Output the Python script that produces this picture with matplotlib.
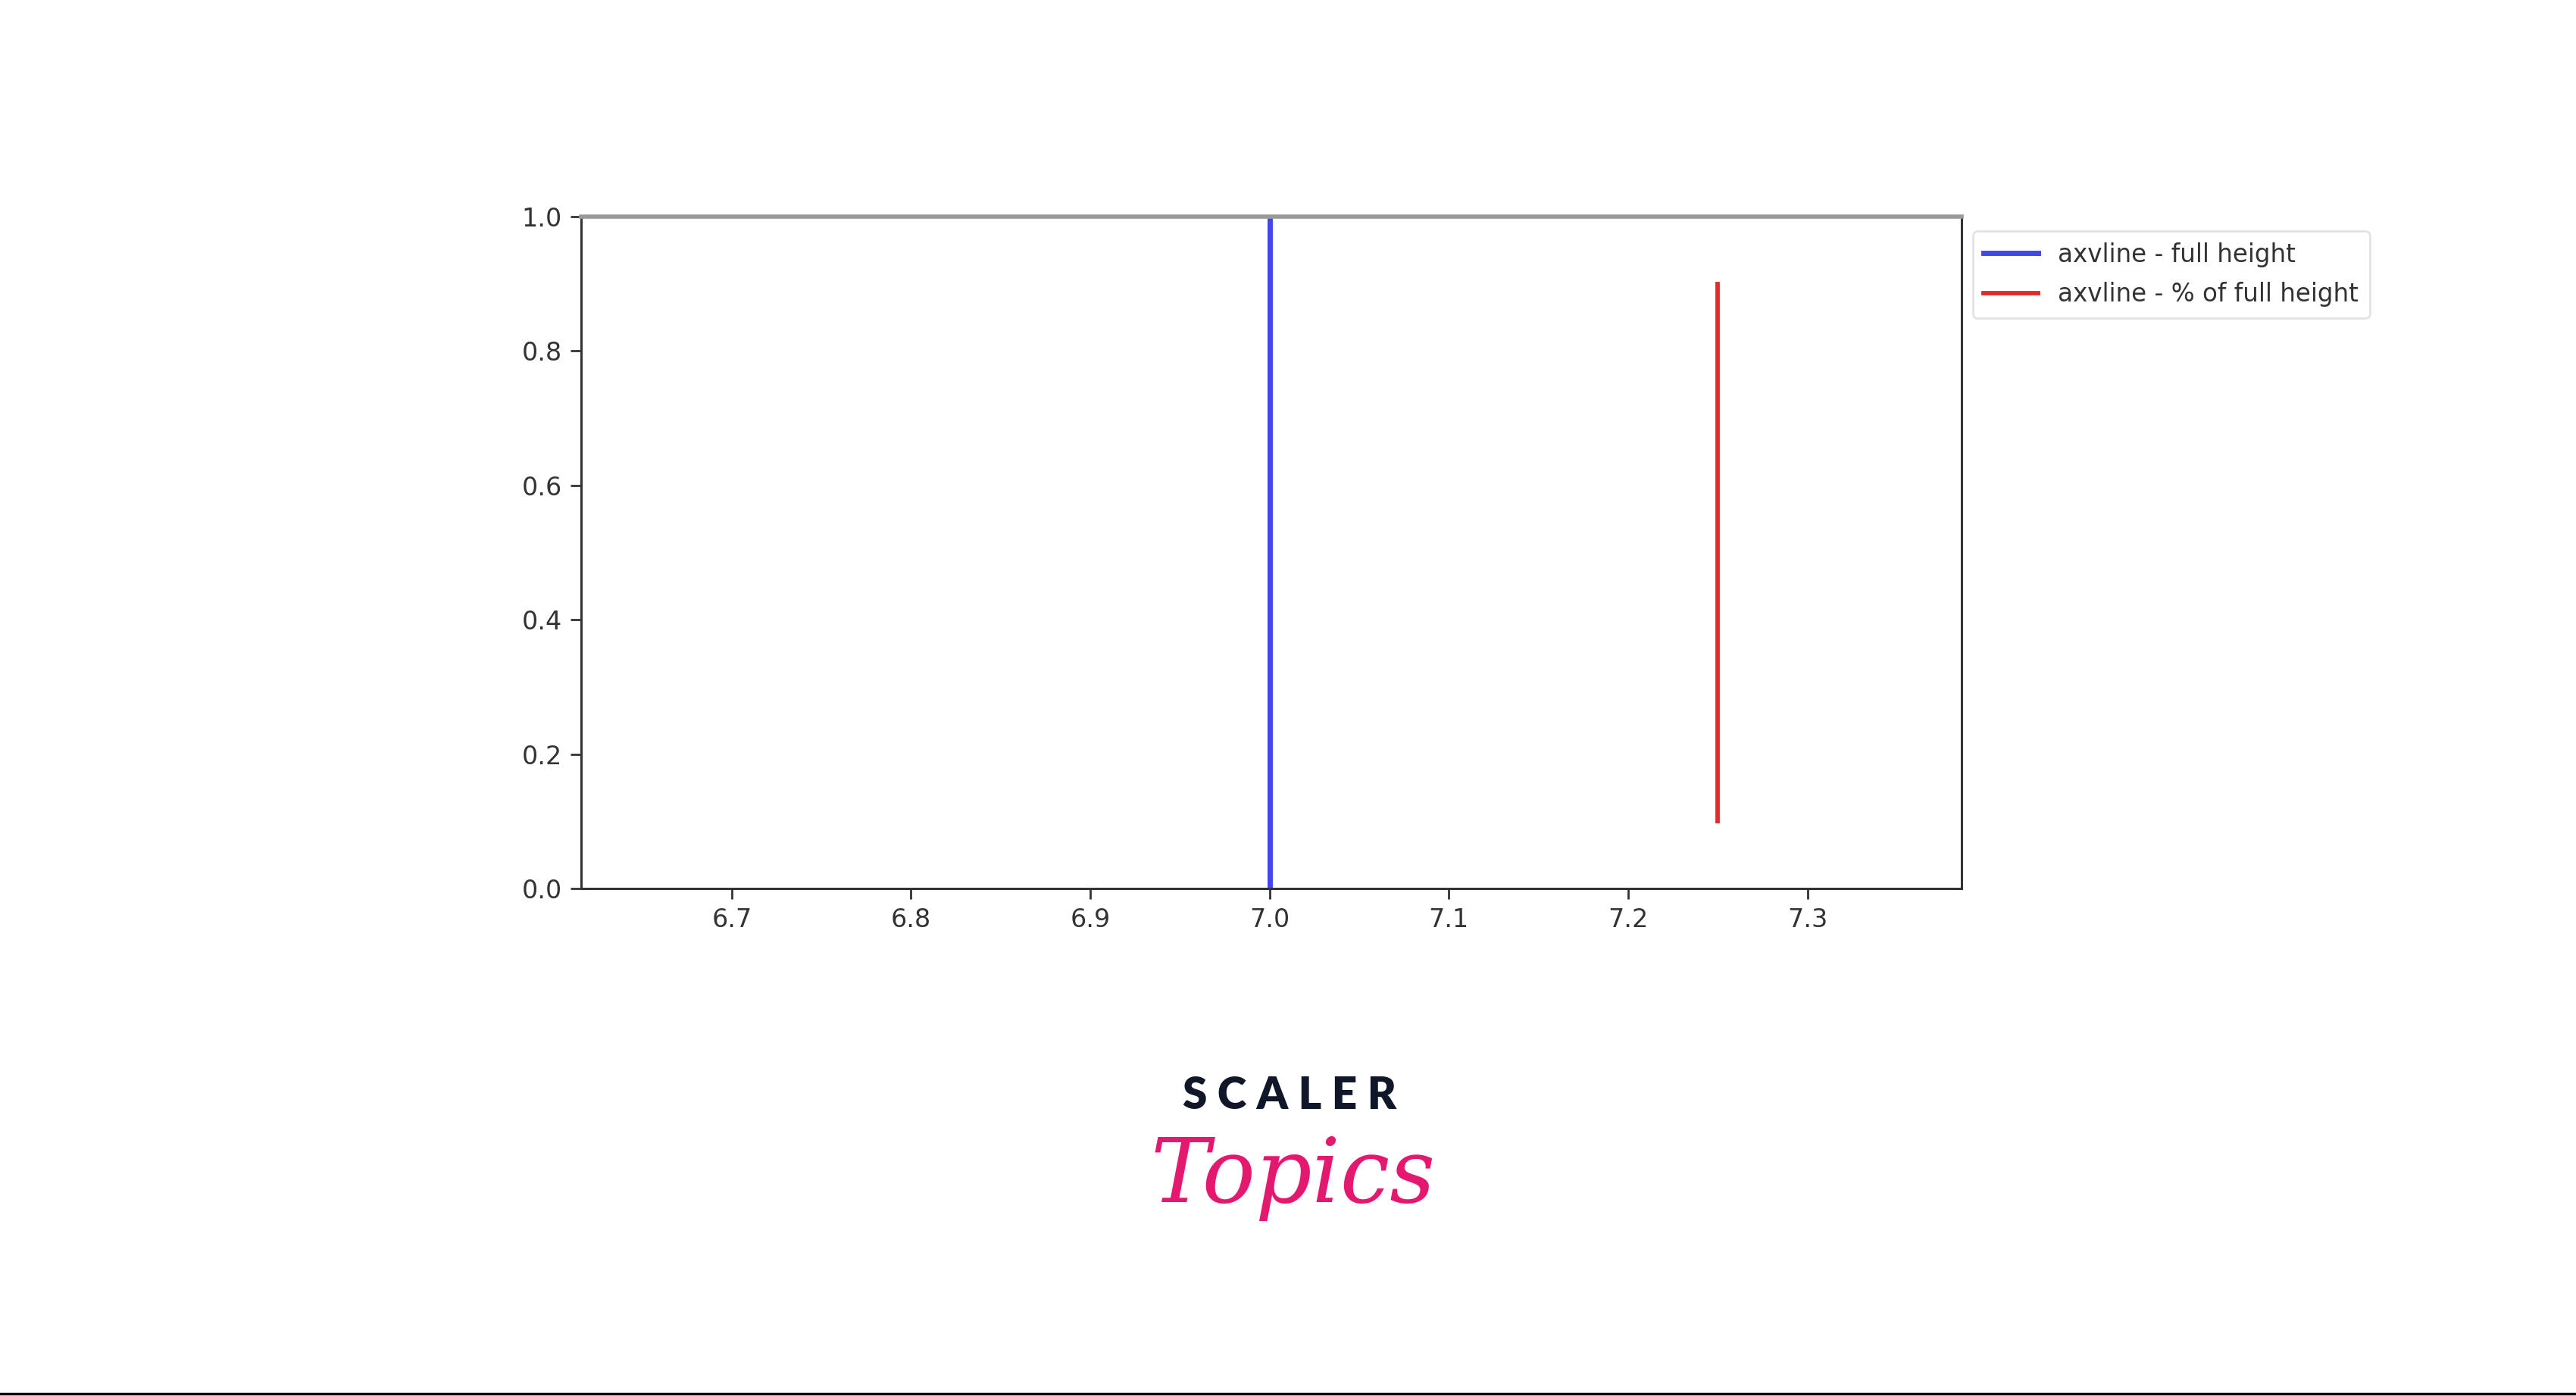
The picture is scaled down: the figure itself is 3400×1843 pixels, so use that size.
import matplotlib
matplotlib.use("Agg")
import matplotlib.pyplot as plt
from matplotlib.lines import Line2D

# Data
full_x = 7.0
partial_x = 7.25
partial_ymin = 0.1
partial_ymax = 0.9
labels = ["axvline - full height", "axvline - % of full height"]
xlim = (6.616, 7.386)
ylim = (0.0, 1.0)
xticks = [6.7, 6.8, 6.9, 7.0, 7.1, 7.2, 7.3]
yticks = [0.0, 0.2, 0.4, 0.6, 0.8, 1.0]

fig = plt.figure(figsize=(34, 18.43), dpi=100)
ax = fig.add_axes([0.2256, 0.3635, 0.7615 - 0.2256, 0.8448 - 0.3635])

ax.axvline(full_x, color="#4545ee", lw=5, label=labels[0])
ax.axvline(partial_x, ymin=partial_ymin, ymax=partial_ymax, color="#e52a2a", lw=4.2, label=labels[1])

ax.set_xlim(*xlim)
ax.set_ylim(*ylim)
ax.set_xticks(xticks)
ax.set_xticklabels([f"{t:.1f}" for t in xticks])
ax.set_yticks(yticks)
ax.set_yticklabels([f"{t:.1f}" for t in yticks])
ax.tick_params(labelsize=24, length=10, width=2, colors="#333333", pad=8)
for s in ["left", "bottom", "right"]:
    ax.spines[s].set_linewidth(2.2)
    ax.spines[s].set_color("#333333")
ax.spines["top"].set_linewidth(4)
ax.spines["top"].set_color("#999999")

leg = fig.legend(loc="upper left", bbox_to_anchor=(0.7658, 0.8345), fontsize=23.5,
                 frameon=True, handlelength=2.2, borderpad=0.45, labelspacing=0.6,
                 handletextpad=0.8, borderaxespad=0.0)
leg.get_frame().set_edgecolor("#dddddd")
leg.get_frame().set_linewidth(2)
for t in leg.get_texts():
    t.set_color("#333333")

# Logo
fig.text(0.5006, 1 - 1446 / 1843, "S C A L E R", ha="center", va="center",
         fontsize=42, fontweight="heavy", color="#0f1729", family="Lato")
fig.text(0.502, 1 - 1555 / 1843, "Topics", ha="center", va="center",
         fontsize=84, style="italic", color="#e5186f", family="DejaVu Serif")

# footer line
fig.add_artist(Line2D([0, 1], [0.0015, 0.0015], transform=fig.transFigure,
                      color="black", lw=2.5))

fig.savefig("out.png", dpi=100, facecolor="white")
